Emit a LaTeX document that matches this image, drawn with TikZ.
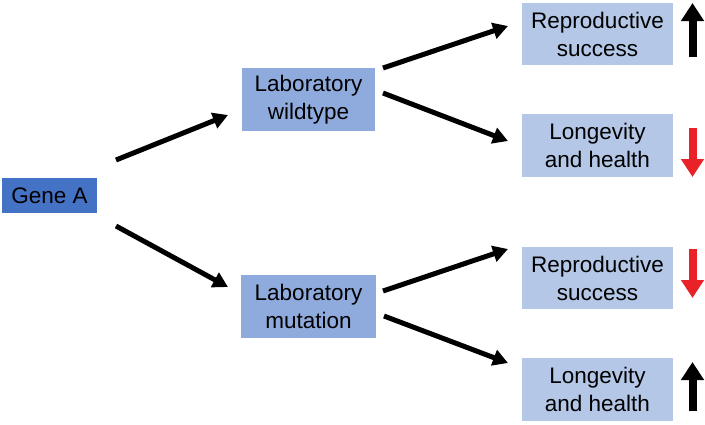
\documentclass[tikz,border=0pt]{standalone}
\usepackage{fontspec}
\setmainfont{Liberation Sans}
\usetikzlibrary{arrows.meta}
\definecolor{geneblue}{RGB}{68,114,196}
\definecolor{midblue}{RGB}{143,170,220}
\definecolor{lightblue}{RGB}{180,199,231}
\definecolor{arrred}{RGB}{232,34,40}
\begin{document}
\begin{tikzpicture}[x=1pt,y=-1pt,
  box/.style={inner sep=0pt, align=center, font=\fontsize{22.5}{28}\selectfont, text=black},
  genebox/.style={box, fill=geneblue, minimum width=95pt, minimum height=35pt},
  midbox/.style={box, fill=midblue, minimum width=133pt, minimum height=63pt},
  rbox/.style={box, fill=lightblue, minimum width=151pt, minimum height=62pt},
  conn/.style={line width=5pt, -{Triangle[length=15pt,width=16pt]}},
  updown/.style={line width=8pt, -{Triangle[length=18pt,width=22pt]}}
]
\useasboundingbox (0,0) rectangle (705,424);
\node[genebox] (gene) at (49.5,195.5) {Gene A};
\node[midbox] (wt) at (308.5,99.5) {Laboratory\\wildtype};
\node[midbox, minimum width=135pt] (mut) at (308.5,306.5) {Laboratory\\mutation};
\node[rbox] (r1) at (597.5,34) {Reproductive\\success};
\node[rbox, minimum height=63pt] (l1) at (597.5,145.5) {Longevity\\and health};
\node[rbox] (r2) at (597.5,278) {Reproductive\\success};
\node[rbox, minimum height=63pt] (l2) at (597.5,389.5) {Longevity\\and health};

\coordinate (g1) at (116,160);
\coordinate (g2) at (116,226);
\coordinate (wtin) at (228,115);
\coordinate (mutin) at (228,287);
\coordinate (wt1) at (383,68);
\coordinate (wt2) at (383,93);
\coordinate (mut1) at (383,291);
\coordinate (mut2) at (384,316);
\coordinate (r1in) at (508,26);
\coordinate (l1in) at (508,141);
\coordinate (r2in) at (508,249);
\coordinate (l2in) at (508,363);

\draw[conn] (g1) -- (wtin);
\draw[conn] (g2) -- (mutin);
\draw[conn] (wt1) -- (r1in);
\draw[conn] (wt2) -- (l1in);
\draw[conn] (mut1) -- (r2in);
\draw[conn] (mut2) -- (l2in);

\coordinate (a1s) at (692.5,57);
\coordinate (a1e) at (692.5,3);
\coordinate (a2s) at (692.5,128);
\coordinate (a2e) at (692.5,177);
\coordinate (a3s) at (692.5,249);
\coordinate (a3e) at (692.5,298);
\coordinate (a4s) at (692.5,411);
\coordinate (a4e) at (692.5,362);
\draw[updown, black] (a1s) -- (a1e);
\draw[updown, arrred, fill=arrred] (a2s) -- (a2e);
\draw[updown, arrred, fill=arrred] (a3s) -- (a3e);
\draw[updown, black] (a4s) -- (a4e);
\end{tikzpicture}
\end{document}
